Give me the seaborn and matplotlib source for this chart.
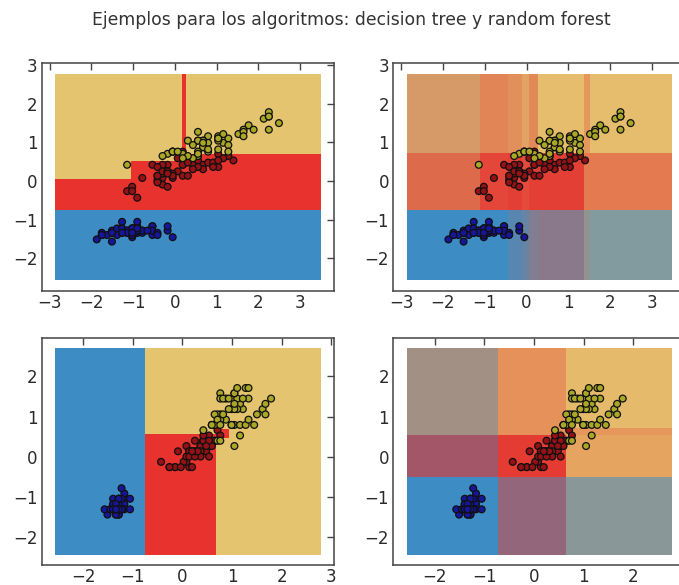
import numpy as np
import matplotlib
matplotlib.use('Agg')
import matplotlib.pyplot as plt
from matplotlib.ticker import MultipleLocator
import seaborn as sns

# Iris data (cm): sepal length, petal length, petal width
sepal_length = [5.1, 4.9, 4.7, 4.6, 5.0, 5.4, 4.6, 5.0, 4.4, 4.9, 5.4, 4.8, 4.8, 4.3, 5.8, 5.7, 5.4, 5.1, 5.7, 5.1,
                5.4, 5.1, 4.6, 5.1, 4.8, 5.0, 5.0, 5.2, 5.2, 4.7, 4.8, 5.4, 5.2, 5.5, 4.9, 5.0, 5.5, 4.9, 4.4, 5.1,
                5.0, 4.5, 4.4, 5.0, 5.1, 4.8, 5.1, 4.6, 5.3, 5.0,
                7.0, 6.4, 6.9, 5.5, 6.5, 5.7, 6.3, 4.9, 6.6, 5.2, 5.0, 5.9, 6.0, 6.1, 5.6, 6.7, 5.6, 5.8, 6.2, 5.6,
                5.9, 6.1, 6.3, 6.1, 6.4, 6.6, 6.8, 6.7, 6.0, 5.7, 5.5, 5.5, 5.8, 6.0, 5.4, 6.0, 6.7, 6.3, 5.6, 5.5,
                5.5, 6.1, 5.8, 5.0, 5.6, 5.7, 5.7, 6.2, 5.1, 5.7,
                6.3, 5.8, 7.1, 6.3, 6.5, 7.6, 4.9, 7.3, 6.7, 7.2, 6.5, 6.4, 6.8, 5.7, 5.8, 6.4, 6.5, 7.7, 7.7, 6.0,
                6.9, 5.6, 7.7, 6.3, 6.7, 7.2, 6.2, 6.1, 6.4, 7.2, 7.4, 7.9, 6.4, 6.3, 6.1, 7.7, 6.3, 6.4, 6.0, 6.9,
                6.7, 6.9, 5.8, 6.8, 6.7, 6.7, 6.3, 6.5, 6.2, 5.9]
petal_length = [1.4, 1.4, 1.3, 1.5, 1.4, 1.7, 1.4, 1.5, 1.4, 1.5, 1.5, 1.6, 1.4, 1.1, 1.2, 1.5, 1.3, 1.4, 1.7, 1.5,
                1.7, 1.5, 1.0, 1.7, 1.9, 1.6, 1.6, 1.5, 1.4, 1.6, 1.6, 1.5, 1.5, 1.4, 1.5, 1.2, 1.3, 1.4, 1.3, 1.5,
                1.3, 1.3, 1.3, 1.6, 1.9, 1.4, 1.6, 1.4, 1.5, 1.4,
                4.7, 4.5, 4.9, 4.0, 4.6, 4.5, 4.7, 3.3, 4.6, 3.9, 3.5, 4.2, 4.0, 4.7, 3.6, 4.4, 4.5, 4.1, 4.5, 3.9,
                4.8, 4.0, 4.9, 4.7, 4.3, 4.4, 4.8, 5.0, 4.5, 3.5, 3.8, 3.7, 3.9, 5.1, 4.5, 4.5, 4.7, 4.4, 4.1, 4.0,
                4.4, 4.6, 4.0, 3.3, 4.2, 4.2, 4.2, 4.3, 3.0, 4.1,
                6.0, 5.1, 5.9, 5.6, 5.8, 6.6, 4.5, 6.3, 5.8, 6.1, 5.1, 5.3, 5.5, 5.0, 5.1, 5.3, 5.5, 6.7, 6.9, 5.0,
                5.7, 4.9, 6.7, 4.9, 5.7, 6.0, 4.8, 4.9, 5.6, 5.8, 6.1, 6.4, 5.6, 5.1, 5.6, 6.1, 5.6, 5.5, 4.8, 5.4,
                5.6, 5.1, 5.1, 5.9, 5.7, 5.2, 5.0, 5.2, 5.4, 5.1]
petal_width = [0.2, 0.2, 0.2, 0.2, 0.2, 0.4, 0.3, 0.2, 0.2, 0.1, 0.2, 0.2, 0.1, 0.1, 0.2, 0.4, 0.4, 0.3, 0.3, 0.3,
               0.2, 0.4, 0.2, 0.5, 0.2, 0.2, 0.4, 0.2, 0.2, 0.2, 0.2, 0.4, 0.1, 0.2, 0.2, 0.2, 0.2, 0.1, 0.2, 0.2,
               0.3, 0.3, 0.2, 0.6, 0.4, 0.3, 0.2, 0.2, 0.2, 0.2,
               1.4, 1.5, 1.5, 1.3, 1.5, 1.3, 1.6, 1.0, 1.3, 1.4, 1.0, 1.5, 1.0, 1.4, 1.3, 1.4, 1.5, 1.0, 1.5, 1.1,
               1.8, 1.3, 1.5, 1.2, 1.3, 1.4, 1.4, 1.7, 1.5, 1.0, 1.1, 1.0, 1.2, 1.6, 1.5, 1.6, 1.5, 1.3, 1.3, 1.3,
               1.2, 1.4, 1.2, 1.0, 1.3, 1.2, 1.3, 1.3, 1.1, 1.3,
               2.5, 1.9, 2.1, 1.8, 2.2, 2.1, 1.7, 1.8, 1.8, 2.5, 2.0, 1.9, 2.1, 2.0, 2.4, 2.3, 1.8, 2.2, 2.3, 1.5,
               2.3, 2.0, 2.0, 1.8, 2.1, 1.8, 1.8, 1.8, 2.1, 1.6, 1.9, 2.0, 2.2, 1.5, 1.4, 2.3, 2.4, 1.8, 1.8, 2.1,
               2.4, 2.3, 1.9, 2.3, 2.5, 2.3, 1.9, 2.0, 2.3, 1.8]
species = ['setosa'] * 50 + ['versicolor'] * 50 + ['virginica'] * 50

# decision surfaces (standardized units). class order: setosa, versicolor, virginica
# decision tree, sepal length vs petal length
dt1_xbreaks = [-1.06, 0.16, 0.27]
dt1_ybreaks = [-0.76, 0.06, 0.53, 0.70]
dt1_class = [[0, 0, 0, 0],
             [1, 1, 1, 1],
             [2, 1, 1, 1],
             [2, 2, 1, 1],
             [2, 2, 1, 2]]

# random forest, sepal length vs petal length (class probabilities per cell)
rf1_xbreaks = [-1.12, -0.45, -0.1, 0.05, 0.28, 1.38, 1.52]
rf1_ybreaks = [-0.76, 0.72]
rf1_proba = [
    [[1, 0, 0], [1, 0, 0], [0.85, 0.1, 0.05], [0.75, 0.15, 0.1], [0.6, 0.25, 0.15],
     [0.55, 0.3, 0.15], [0.5, 0.15, 0.35], [0.6, 0.05, 0.35]],
    [[0.05, 0.6, 0.35], [0.02, 0.85, 0.13], [0.02, 0.9, 0.08], [0.02, 0.82, 0.16], [0.02, 0.9, 0.08],
     [0.02, 0.9, 0.08], [0.02, 0.5, 0.48], [0.02, 0.5, 0.48]],
    [[0.1, 0.25, 0.65], [0.03, 0.42, 0.55], [0.03, 0.35, 0.62], [0.02, 0.22, 0.76], [0.02, 0.4, 0.58],
     [0.0, 0.05, 0.95], [0.0, 0.3, 0.7], [0.0, 0.05, 0.95]],
]

# decision tree, petal length vs petal width
dt2_xbreaks = [-0.75, 0.68, 0.93]
dt2_ybreaks = [0.46, 0.56, 0.68]
dt2_class = [[0, 1, 2, 2],
             [0, 1, 1, 2],
             [0, 2, 1, 2],
             [0, 2, 2, 2]]

# random forest, petal length vs petal width
rf2_xbreaks = [-0.73, 0.64]
rf2_ybreaks = [-0.5, 0.53, 0.72]
rf2_proba = [
    [[1, 0, 0], [0.5, 0.45, 0.05], [0.55, 0.1, 0.35]],
    [[0.4, 0.6, 0], [0.02, 0.93, 0.05], [0, 0.22, 0.78]],
    [[0.4, 0.2, 0.4], [0, 0.35, 0.65], [0, 0.3, 0.7]],
    [[0.4, 0.2, 0.4], [0, 0.35, 0.65], [0, 0.07, 0.93]],
]

region_colors = np.array([[62, 140, 196], [232, 50, 45], [229, 196, 112]]) / 255.0
point_colors = {'setosa': '#16169a', 'versicolor': '#941216', 'virginica': '#aaa626'}


def standardize(v):
    v = np.asarray(v, dtype=float)
    return (v - v.mean()) / v.std()


sl = standardize(sepal_length)
pl = standardize(petal_length)
pw = standardize(petal_width)


def draw_panel(ax, x, y, xbreaks, ybreaks, proba):
    xe = np.r_[x.min() - 1, xbreaks, x.max() + 1]
    ye = np.r_[y.min() - 1, ybreaks, y.max() + 1]
    rgb = np.clip(np.asarray(proba, dtype=float) @ region_colors, 0, 1)
    ax.pcolormesh(xe, ye, rgb, shading='flat', edgecolors='none', antialiased=False)
    sns.scatterplot(x=x, y=y, hue=species, palette=point_colors, s=24,
                    edgecolor='#101010', linewidth=0.9, legend=False, ax=ax, zorder=3)
    ax.use_sticky_edges = False
    ax.margins(0.05)
    ax.autoscale_view()
    ax.xaxis.set_major_locator(MultipleLocator(1))
    ax.yaxis.set_major_locator(MultipleLocator(1))
    ax.set_xlabel('')
    ax.set_ylabel('')
    ax.tick_params(direction='in', top=True, right=True, length=5, width=1,
                   color='#444444', labelcolor='#2a2a2a', labelsize=12)
    ax.tick_params(axis='x', pad=2.5)
    ax.tick_params(axis='y', pad=3)
    for s in ax.spines.values():
        s.set_color('#444444')
        s.set_linewidth(1.1)


sns.set_style('white')
fig, axes = plt.subplots(2, 2, figsize=(6.79, 5.85), dpi=100)
plt.subplots_adjust(left=0.0614, right=1.0098, bottom=0.0342, top=0.892, wspace=0.203, hspace=0.207)

onehot = np.eye(3)
draw_panel(axes[0, 0], sl, pl, dt1_xbreaks, dt1_ybreaks, onehot[np.array(dt1_class)])
draw_panel(axes[0, 1], sl, pl, rf1_xbreaks, rf1_ybreaks, rf1_proba)
draw_panel(axes[1, 0], pl, pw, dt2_xbreaks, dt2_ybreaks, onehot[np.array(dt2_class)])
draw_panel(axes[1, 1], pl, pw, rf2_xbreaks, rf2_ybreaks, rf2_proba)
# the right-hand panel runs past the picture edge; its last label is not visible
axes[1, 1].set_xticks([-2, -1, 0, 1, 2])

fig.suptitle('Ejemplos para los algoritmos: decision tree y random forest',
             x=0.517, y=0.965, va='center', fontsize=12.4, color='#333333')

fig.savefig('out.png', dpi=100)
